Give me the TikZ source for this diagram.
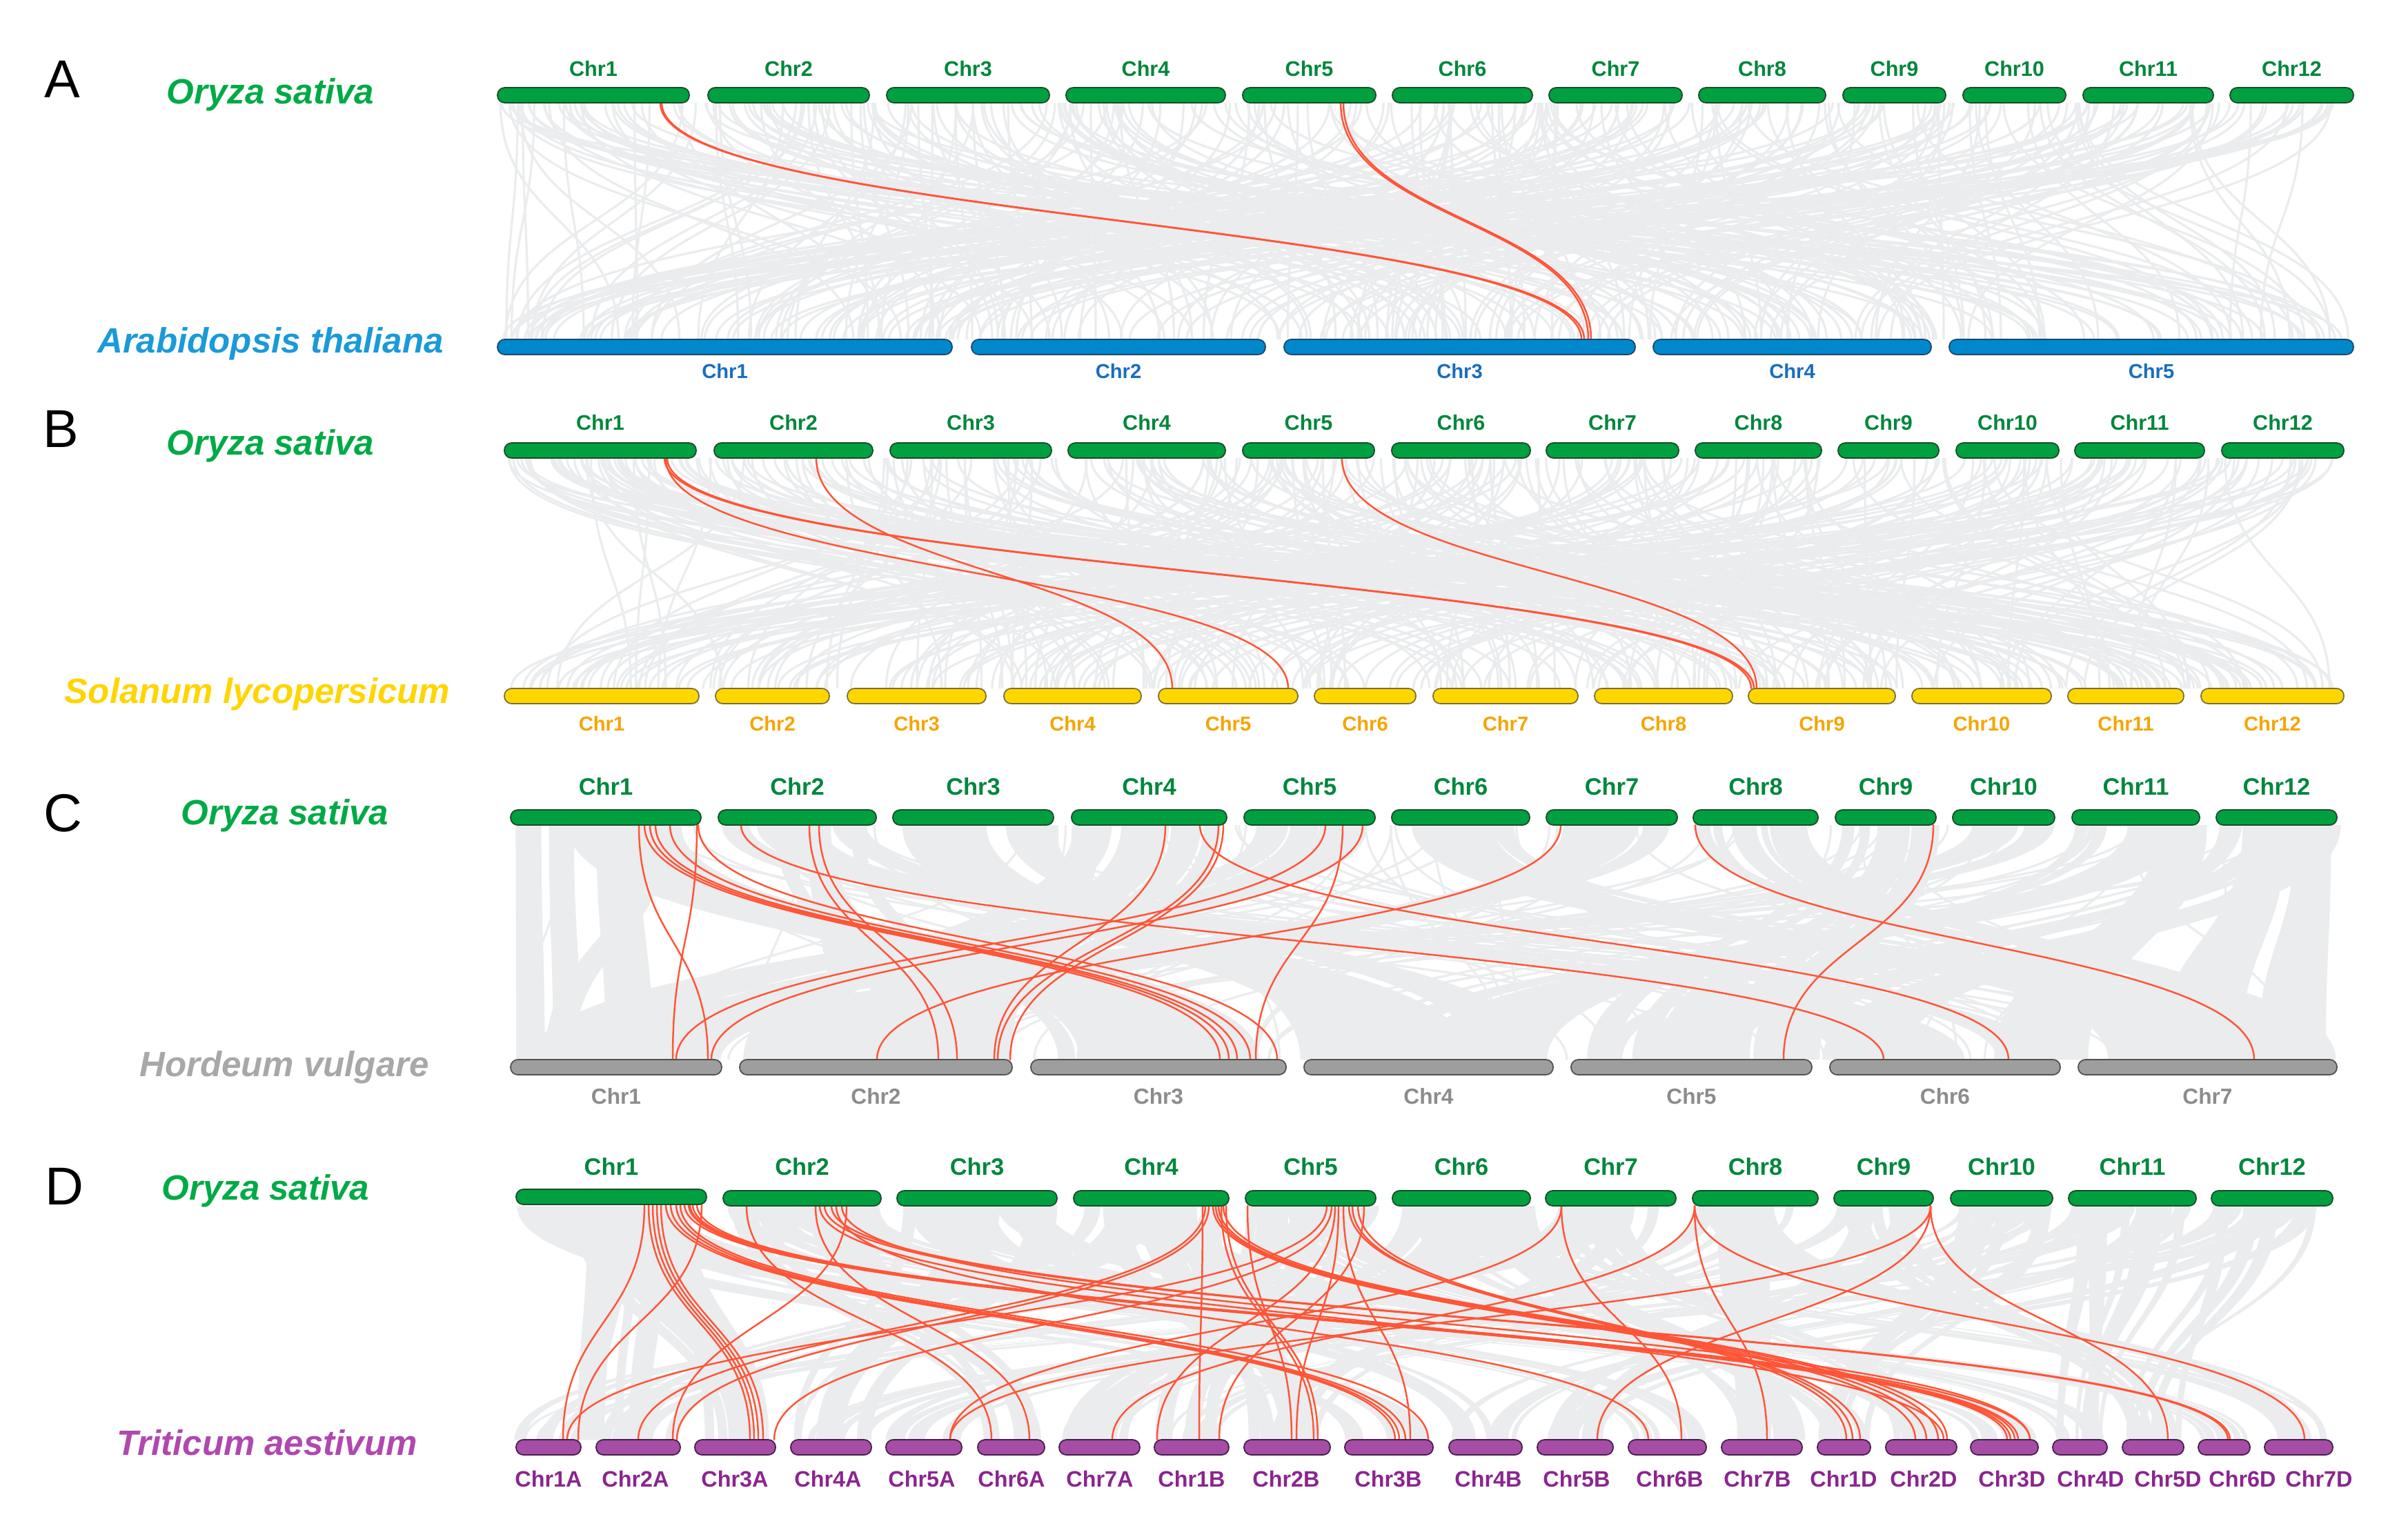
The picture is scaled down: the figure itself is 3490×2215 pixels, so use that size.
\documentclass[tikz,border=0pt]{standalone}
\usepackage{fontspec}
\setmainfont{Liberation Sans}
\definecolor{osgreen}{RGB}{0,160,64}
\definecolor{osgreenD}{RGB}{25,75,40}
\definecolor{oslab}{RGB}{0,135,60}
\definecolor{osname}{RGB}{0,170,70}
\definecolor{atblue}{RGB}{0,136,204}
\definecolor{atblueD}{RGB}{30,70,105}
\definecolor{atlab}{RGB}{25,110,190}
\definecolor{atname}{RGB}{26,154,217}
\definecolor{slyel}{RGB}{255,215,0}
\definecolor{slyelD}{RGB}{125,110,50}
\definecolor{sllab}{RGB}{245,165,0}
\definecolor{slname}{RGB}{255,213,0}
\definecolor{hvgrey}{RGB}{158,158,158}
\definecolor{hvgreyD}{RGB}{80,80,80}
\definecolor{hvlab}{RGB}{140,140,140}
\definecolor{hvname}{RGB}{168,168,168}
\definecolor{tapur}{RGB}{166,77,166}
\definecolor{tapurD}{RGB}{70,30,75}
\definecolor{talab}{RGB}{139,37,144}
\definecolor{taname}{RGB}{176,72,176}
\definecolor{fog}{RGB}{234,236,238}
\definecolor{redlk}{RGB}{255,85,55}
\newcommand\lk[4]{\draw[redln] (#1,#2) .. controls (#1,{(#2+#4)/2}) and (#3,{(#2+#4)/2}) .. (#3,#4);}
\newcommand\gl[4]{\draw[greyln] (#1,#2) .. controls (#1,{(#2+#4)/2}) and (#3,{(#2+#4)/2}) .. (#3,#4);}
\newcommand\ribbons[7]{%
  \foreach \k in {1,...,#7}{%
    \pgfmathsetmacro\f{rnd*0.88}%
    \pgfmathsetmacro\fw{0.05+rnd*0.12}%
    \pgfmathsetmacro\ta{#1+\f*(#2-#1)}%
    \pgfmathsetmacro\tb{\ta+\fw*(#2-#1)}%
    \pgfmathsetmacro\ba{rnd>0.65 ? #3+(1-\f-\fw)*(#4-#3) : #3+\f*(#4-#3)}%
    \pgfmathsetmacro\bb{\ba+\fw*(#4-#3)}%
    \pgfmathsetmacro\ym{(#5+#6)/2}%
    \fill[fog] (\ta,#5) .. controls (\ta,\ym) and (\ba,\ym) .. (\ba,#6) -- (\bb,#6) .. controls (\bb,\ym) and (\tb,\ym) .. (\tb,#5) -- cycle;
  }}
\begin{document}
\begin{tikzpicture}[x=0.01cm,y=-0.01cm,
  greyln/.style={draw=fog, line width=0.9pt},
  redln/.style={draw=redlk, line width=0.7pt, line cap=round},
  bar/.style={line width=0.5pt, rounded corners=3pt},
  osbar/.style={bar, fill=osgreen, draw=osgreenD},
  atbar/.style={bar, fill=atblue, draw=atblueD},
  slbar/.style={bar, fill=slyel, draw=slyelD},
  hvbar/.style={bar, fill=hvgrey, draw=hvgreyD},
  tabar/.style={bar, fill=tapur, draw=tapurD},
  labS/.style={inner sep=0pt, font=\bfseries\fontsize{8.7}{10}\selectfont},
  labL/.style={inner sep=0pt, font=\bfseries\fontsize{9.8}{11}\selectfont},
  species/.style={inner sep=0pt, anchor=base, font=\bfseries\itshape\fontsize{14.5}{17}\selectfont},
  letter/.style={inner sep=0pt, anchor=base, font=\fontsize{22}{24}\selectfont}]
\useasboundingbox (0,0) rectangle (3490,2215);
\fill[white] (0,0) rectangle (3490,2215);

% ================= Panel A =================
\pgfmathsetseed{11}
\foreach \i in {1,...,360}{%
  \pgfmathsetmacro\xa{725+rnd*2680}%
  \pgfmathsetmacro\xb{725+rnd*2680}%
  \gl{\xa}{149}{\xb}{492}}
\foreach \a/\b in {957/2292, 959/2296, 1943/2302, 1947/2306} {\lk{\a}{149}{\b}{492}}
\foreach \n/\a/\b in {1/721/999, 2/1026/1260, 3/1285/1521, 4/1545/1776, 5/1801/1994, 6/2018/2221, 7/2245/2438, 8/2462/2646, 9/2671/2820, 10/2845/2994, 11/3019/3208, 12/3232/3411}{
  \draw[osbar] (\a,127) rectangle (\b,149);
  \node[labS, text=oslab] (A-os-\n) at ({(\a+\b)/2},100) {Chr\n};}
\foreach \n/\a/\b in {1/721/1380, 2/1408/1834, 3/1861/2370, 4/2396/2799, 5/2825/3411}{
  \draw[atbar] (\a,492) rectangle (\b,514);
  \node[labS, text=atlab, font=\bfseries\fontsize{8.3}{10}\selectfont] (A-at-\n) at ({(\a+\b)/2},538) {Chr\n};}
\node[letter] (letA) at (90,141) {A};
\node[species, text=osname] (A-os) at (392,150) {Oryza sativa};
\node[species, text=atname] (A-at) at (392,511) {Arabidopsis thaliana};

% ================= Panel B =================
\pgfmathsetseed{23}
\foreach \i in {1,...,360}{%
  \pgfmathsetmacro\xa{735+rnd*2660}%
  \pgfmathsetmacro\xb{735+rnd*2660}%
  \gl{\xa}{664}{\xb}{998}}
\foreach \a/\b in {965/1867, 963/2538, 967/2542, 1183/1699, 1945/2546} {\lk{\a}{664}{\b}{998}}
\foreach \n/\a/\b in {1/731/1009, 2/1035/1265, 3/1290/1524, 4/1548/1776, 5/1801/1992, 6/2017/2218, 7/2241/2433, 8/2457/2640, 9/2664/2810, 10/2835/2984, 11/3007/3195, 12/3220/3397}{
  \draw[osbar] (\a,642) rectangle (\b,664);
  \node[labS, text=oslab] (B-os-\n) at ({(\a+\b)/2},613) {Chr\n};}
\foreach \n/\a/\b in {1/731/1013, 2/1037/1202, 3/1228/1429, 4/1455/1654, 5/1679/1881, 6/1905/2052, 7/2077/2287, 8/2311/2511, 9/2534/2747, 10/2771/2973, 11/2997/3165, 12/3190/3397}{
  \draw[slbar] (\a,998) rectangle (\b,1020);
  \node[labS, text=sllab, font=\bfseries\fontsize{8.3}{10}\selectfont] (B-sl-\n) at ({(\a+\b)/2},1049) {Chr\n};}
\node[letter] (letB) at (88,648) {B};
\node[species, text=osname] (B-os) at (392,659) {Oryza sativa};
\node[species, text=slname] (B-sl) at (373,1019) {Solanum lycopersicum};

% ================= Panel C =================
\pgfmathsetseed{37}
\ribbons{740}{1016}{1494}{1864}{1196}{1536}{16}
\ribbons{1041}{1270}{2652}{2986}{1196}{1536}{16}
\ribbons{1294}{1527}{1890}{2251}{1196}{1536}{16}
\ribbons{1553}{1778}{1072}{1467}{1196}{1536}{16}
\ribbons{1803}{1993}{740}{1046}{1196}{1536}{16}
\ribbons{2017}{2217}{3012}{3387}{1196}{1536}{16}
\ribbons{2241}{2431}{1072}{1467}{1196}{1536}{12}
\ribbons{2454}{2635}{3012}{3387}{1196}{1536}{12}
\ribbons{2660}{2806}{2277}{2626}{1196}{1536}{12}
\ribbons{2830}{2978}{740}{1046}{1196}{1536}{12}
\ribbons{3003}{3188}{1890}{2251}{1196}{1536}{12}
\ribbons{3212}{3387}{2277}{2626}{1196}{1536}{12}
\ribbons{740}{1016}{740}{1046}{1196}{1536}{6}
\ribbons{1041}{1270}{1072}{1467}{1196}{1536}{6}
\ribbons{3003}{3387}{2652}{3387}{1196}{1536}{8}
\foreach \i in {1,...,80}{%
  \pgfmathsetmacro\xa{745+rnd*2640}%
  \pgfmathsetmacro\xb{745+rnd*2640}%
  \gl{\xa}{1196}{\xb}{1536}}
\foreach \a/\b in {926/1026, 1010/975, 934/1768, 942/1781, 950/1793, 971/1812, 1012/1851, 1074/2730, 1173/1360, 1187/1387, 1689/1441, 1766/1446, 1773/1464, 1739/2911, 1921/980, 1975/1031, 1946/1820, 2262/1271, 2457/3267, 2802/2585} {\lk{\a}{1196}{\b}{1536}}
\foreach \n/\a/\b in {1/740/1016, 2/1041/1270, 3/1294/1527, 4/1553/1778, 5/1803/1993, 6/2017/2217, 7/2241/2431, 8/2454/2635, 9/2660/2806, 10/2830/2978, 11/3003/3188, 12/3212/3387}{
  \draw[osbar] (\a,1174) rectangle (\b,1196);
  \node[labL, text=oslab] (C-os-\n) at ({(\a+\b)/2},1140) {Chr\n};}
\foreach \n/\a/\b in {1/740/1046, 2/1072/1467, 3/1494/1864, 4/1890/2251, 5/2277/2626, 6/2652/2986, 7/3012/3387}{
  \draw[hvbar] (\a,1536) rectangle (\b,1558);
  \node[labL, text=hvlab, font=\bfseries\fontsize{9}{11}\selectfont] (C-hv-\n) at ({(\a+\b)/2},1589) {Chr\n};}
\node[letter] (letC) at (91,1205) {C};
\node[species, text=osname] (C-os) at (413,1195) {Oryza sativa};
\node[species, text=hvname] (C-hv) at (412,1560) {Hordeum vulgare};

% ================= Panel D =================
\pgfmathsetseed{53}
% Os1 -> 3A 3B 3D
\ribbons{748}{1024}{1007}{1124}{1748}{2087}{8}
\ribbons{748}{1024}{1949}{2077}{1748}{2087}{8}
\ribbons{748}{1024}{2856}{2954}{1748}{2087}{8}
% Os2 -> 6
\ribbons{1048}{1277}{1417}{1514}{1748}{2087}{8}
\ribbons{1048}{1277}{2360}{2473}{1748}{2087}{8}
\ribbons{1048}{1277}{3186}{3261}{1748}{2087}{8}
% Os3 -> 4
\ribbons{1300}{1532}{1146}{1263}{1748}{2087}{8}
\ribbons{1300}{1532}{2100}{2206}{1748}{2087}{8}
\ribbons{1300}{1532}{2975}{3054}{1748}{2087}{8}
% Os4 -> 2
\ribbons{1556}{1781}{864}{986}{1748}{2087}{8}
\ribbons{1556}{1781}{1803}{1928}{1748}{2087}{8}
\ribbons{1556}{1781}{2733}{2836}{1748}{2087}{8}
% Os5 -> 1
\ribbons{1805}{1994}{748}{842}{1748}{2087}{8}
\ribbons{1805}{1994}{1673}{1781}{1748}{2087}{8}
\ribbons{1805}{1994}{2634}{2711}{1748}{2087}{8}
% Os6 -> 7
\ribbons{2018}{2218}{1535}{1652}{1748}{2087}{8}
\ribbons{2018}{2218}{2495}{2612}{1748}{2087}{8}
\ribbons{2018}{2218}{3282}{3381}{1748}{2087}{8}
% Os7 -> 2
\ribbons{2240}{2429}{864}{986}{1748}{2087}{6}
\ribbons{2240}{2429}{1803}{1928}{1748}{2087}{6}
\ribbons{2240}{2429}{2733}{2836}{1748}{2087}{6}
% Os8 -> 7
\ribbons{2453}{2635}{1535}{1652}{1748}{2087}{6}
\ribbons{2453}{2635}{2495}{2612}{1748}{2087}{6}
\ribbons{2453}{2635}{3282}{3381}{1748}{2087}{6}
% Os9 -> 5
\ribbons{2658}{2802}{1284}{1394}{1748}{2087}{6}
\ribbons{2658}{2802}{2228}{2338}{1748}{2087}{6}
\ribbons{2658}{2802}{3076}{3165}{1748}{2087}{6}
% Os10 -> 1
\ribbons{2827}{2975}{748}{842}{1748}{2087}{6}
\ribbons{2827}{2975}{1673}{1781}{1748}{2087}{6}
\ribbons{2827}{2975}{2634}{2711}{1748}{2087}{6}
% Os11 -> 4
\ribbons{2998}{3183}{1146}{1263}{1748}{2087}{6}
\ribbons{2998}{3183}{2100}{2206}{1748}{2087}{6}
\ribbons{2998}{3183}{2975}{3054}{1748}{2087}{6}
% Os12 -> 5
\ribbons{3205}{3381}{1284}{1394}{1748}{2087}{6}
\ribbons{3205}{3381}{2228}{2338}{1748}{2087}{6}
\ribbons{3205}{3381}{3076}{3165}{1748}{2087}{6}
\ribbons{748}{1024}{748}{986}{1748}{2087}{6}
\foreach \a/\b in {934/816, 1017/838, 940/1087, 946/1093, 952/1099, 958/1106, 965/2022, 972/2028, 980/2037, 986/2070, 992/2909, 998/2914, 1004/2920, 1010/2925, 1000/2942} {\lk{\a}{1746}{\b}{2087}}
\foreach \a/\b in {1082/1437, 1182/1492, 1227/975, 1195/3229, 1205/3232, 1212/2389, 1220/2942, 1188/2817,
  1743/1738, 1747/925, 1752/981, 1770/1904, 1777/1910, 1758/2776, 1762/2792, 1766/2809, 1773/2822,
  1808/1872, 1923/822, 1930/1122, 1947/2044, 1960/2676, 1968/2685, 1977/1767, 1940/1879, 1955/2696, 1935/1677,
  2263/2437, 2263/1377, 2456/1612, 2456/2561, 2456/3340, 2798/1377, 2798/2315, 2798/3142} {\lk{\a}{1748}{\b}{2087}}
\draw[osbar] (748,1724) rectangle (1024,1746);
\node[labL, text=oslab] (D-os-1) at (886,1691) {Chr1};
\foreach \n/\a/\b in {2/1048/1277, 3/1300/1532, 4/1556/1781, 5/1805/1994, 6/2018/2218, 7/2240/2429, 8/2453/2635, 9/2658/2802, 10/2827/2975, 11/2998/3183, 12/3205/3381}{
  \draw[osbar] (\a,1726) rectangle (\b,1748);
  \node[labL, text=oslab] (D-os-\n) at ({(\a+\b)/2},1691) {Chr\n};}
\foreach \n/\a/\b/\c in {1A/748/842/795, 2A/864/986/921, 3A/1007/1124/1065, 4A/1146/1263/1200, 5A/1284/1394/1336, 6A/1417/1514/1466, 7A/1535/1652/1594,
  1B/1673/1781/1727, 2B/1803/1928/1864, 3B/1949/2077/2012, 4B/2100/2206/2157, 5B/2228/2338/2285, 6B/2360/2473/2420, 7B/2495/2612/2547,
  1D/2634/2711/2672, 2D/2733/2836/2788, 3D/2856/2954/2916, 4D/2975/3054/3030, 5D/3076/3165/3142, 6D/3186/3261/3250, 7D/3282/3381/3361}{
  \draw[tabar] (\a,2087) rectangle (\b,2109);
  \node[labL, text=talab, font=\bfseries\fontsize{9.2}{11}\selectfont] (D-ta-\n) at (\c,2144) {Chr\n};}
\node[letter] (letD) at (93,1746) {D};
\node[species, text=osname] (D-os) at (385,1739) {Oryza sativa};
\node[species, text=taname] (D-ta) at (387,2109) {Triticum aestivum};
\end{tikzpicture}
\end{document}
